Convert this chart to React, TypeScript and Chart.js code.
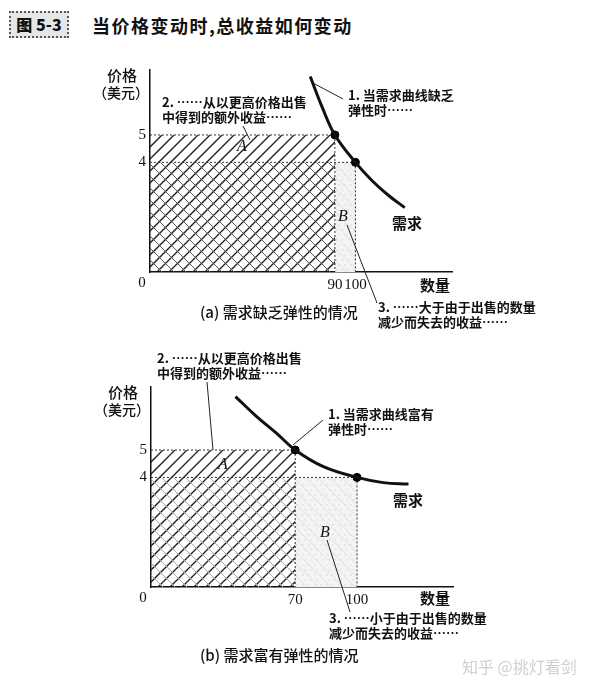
import React, { useEffect, useRef } from "react";
import { Chart, registerables } from "chart.js";
Chart.register(...registerables);

// ---- data ----
const priceTicks = [4, 5];
const qtyTicksA = [90, 100];
const qtyTicksB = [70, 100];

const demandAQty = [78, 84, 90, 100, 108, 116, 124];
const demandAPrice = [7.13, 5.98, 5, 4, 3.34, 2.8, 2.35];
const demandBQty = [41, 51.3, 61, 70, 83.7, 100, 112.8, 125];
const demandBPrice = [6.95, 6.22, 5.61, 5, 4.39, 4, 3.81, 3.76];

const pointsAQty = [90, 100];
const pointsBQty = [70, 100];
const pointsPrice = [5, 4];

const CJK = '"Noto Sans CJK SC", "Noto Sans", sans-serif';
const SERIF = '"Liberation Serif", "DejaVu Serif", serif';

type Txt = { t: string; x: number; y: number; f: string; a?: CanvasTextAlign; c?: string };

function makePlugin(cfg: {
  qty: number[];
  price: number[];
  backColor: string;
  texts: Txt[];
  leaders: number[][];
}) {
  return {
    id: "econ",
    beforeDatasetsDraw(chart: any) {
      const { ctx } = chart;
      const xs = chart.scales.x;
      const ys = chart.scales.y;
      const X = (v: number) => xs.getPixelForValue(v);
      const Y = (v: number) => ys.getPixelForValue(v);
      const [q1, q2] = cfg.qty;
      const [p1, p2] = cfg.price;
      ctx.save();
      // region B light fill
      const bx = X(q1), by = Y(p2), bw = X(q2) - X(q1), bh = Y(0) - Y(p2);
      ctx.fillStyle = "#f4f4f4";
      ctx.fillRect(bx, by, bw, bh);
      ctx.fillStyle = "#c4c4c4";
      let row = 0;
      for (let yy = by + 2; yy < by + bh; yy += 5) {
        for (let xx = bx + (row % 2 ? 1 : 3.5); xx < bx + bw; xx += 6) {
          ctx.fillRect(xx, yy, 1, 1);
        }
        row++;
      }
      // faint "\" in region B
      ctx.save();
      ctx.beginPath();
      ctx.rect(bx, by, bw, bh);
      ctx.clip();
      ctx.strokeStyle = "#e0e0e0";
      ctx.lineWidth = 1;
      for (let c = bx - (by + bh) - 12; c < bx + bw - by + 12; c += 12) {
        ctx.beginPath();
        ctx.moveTo(c + by, by);
        ctx.lineTo(c + by + bh, by + bh);
        ctx.stroke();
      }
      ctx.restore();

      const s = 12;
      // "/" hatch over [0,q1] x [0,p1]
      const L = X(0), R = X(q1), T = Y(p1), B = Y(0);
      ctx.save();
      ctx.beginPath();
      ctx.rect(L, T, R - L, B - T);
      ctx.clip();
      ctx.strokeStyle = "#1e1e1e";
      ctx.lineWidth = 1.3;
      for (let c = L + T - s; c < R + B + s; c += s) {
        ctx.beginPath();
        ctx.moveTo(c - B, B);
        ctx.lineTo(c - T, T);
        ctx.stroke();
      }
      ctx.restore();
      // "\" hatch over [0,q1] x [0,p2]
      const T2 = Y(p2);
      ctx.save();
      ctx.beginPath();
      ctx.rect(L, T2, R - L, B - T2);
      ctx.clip();
      ctx.strokeStyle = cfg.backColor;
      ctx.lineWidth = 1;
      for (let c = L - B - s; c < R - T2 + s; c += s) {
        ctx.beginPath();
        ctx.moveTo(c + T2, T2);
        ctx.lineTo(c + B, B);
        ctx.stroke();
      }
      ctx.restore();

      // dotted guides
      ctx.strokeStyle = "#333";
      ctx.lineWidth = 1;
      ctx.setLineDash([2, 2]);
      const seg = (a: number, b: number, c: number, d: number) => {
        ctx.beginPath();
        ctx.moveTo(a, b);
        ctx.lineTo(c, d);
        ctx.stroke();
      };
      seg(X(0), Y(p1), X(q1), Y(p1));
      seg(X(0), Y(p2), X(q2), Y(p2));
      seg(X(q1), Y(p1), X(q1), Y(0));
      seg(X(q2), Y(p2), X(q2), Y(0));
      ctx.restore();
    },
    afterDraw(chart: any) {
      const { ctx } = chart;
      const xs = chart.scales.x;
      const ys = chart.scales.y;
      ctx.save();
      ctx.strokeStyle = "#222";
      ctx.lineWidth = 1;
      cfg.leaders.forEach((l) => {
        ctx.beginPath();
        ctx.moveTo(l[0], l[1]);
        ctx.lineTo(l[2], l[3]);
        ctx.stroke();
      });
      ctx.textBaseline = "middle";
      // origin label
      ctx.font = `15px ${SERIF}`;
      ctx.fillStyle = "#111";
      ctx.textAlign = "center";
      ctx.fillText("0", xs.getPixelForValue(0) - 8, ys.getPixelForValue(0) + 11);
      cfg.texts.forEach((tx) => {
        ctx.font = tx.f;
        ctx.fillStyle = tx.c || "#111";
        ctx.textAlign = tx.a || "left";
        ctx.fillText(tx.t, tx.x, tx.y);
      });
      ctx.restore();
    },
  };
}

const fNote = `bold 13px ${CJK}`;
const fLab = `500 15px ${CJK}`;
const fUnit = `500 14px ${CJK}`;
const fBig = `bold 15px ${CJK}`;
const fCap = `500 15px ${CJK}`;
const fLetter = `italic 16px ${SERIF}`;

const textsA: Txt[] = [
  { t: "价格", x: 122, y: 75, f: fLab, a: "center" },
  { t: "（美元）", x: 121, y: 93, f: fUnit, a: "center" },
  { t: "1. 当需求曲线缺乏", x: 348, y: 95, f: fNote },
  { t: "弹性时……", x: 348, y: 110, f: fNote },
  { t: "2. ……从以更高价格出售", x: 162, y: 102, f: fNote },
  { t: "中得到的额外收益……", x: 162, y: 117, f: fNote },
  { t: "A", x: 242, y: 147, f: fLetter, a: "center" },
  { t: "B", x: 343, y: 217, f: fLetter, a: "center" },
  { t: "3. ……大于由于出售的数量", x: 378, y: 307, f: fNote },
  { t: "减少而失去的收益……", x: 378, y: 322, f: fNote },
  { t: "需求", x: 407, y: 223, f: fBig, a: "center" },
  { t: "数量", x: 435, y: 285, f: fBig, a: "center" },
  { t: "(a) 需求缺乏弹性的情况", x: 200, y: 312, f: fCap },
];
const leadersA = [
  [313, 83, 343, 99],
  [243, 126, 250, 140],
  [347, 225, 377, 303],
];

const textsB: Txt[] = [
  { t: "2. ……从以更高价格出售", x: 157, y: 10, f: fNote },
  { t: "中得到的额外收益……", x: 157, y: 25, f: fNote },
  { t: "价格", x: 123, y: 44, f: fLab, a: "center" },
  { t: "（美元）", x: 122, y: 62, f: fUnit, a: "center" },
  { t: "1. 当需求曲线富有", x: 328, y: 66, f: fNote },
  { t: "弹性时……", x: 328, y: 81, f: fNote },
  { t: "A", x: 223, y: 117, f: fLetter, a: "center" },
  { t: "需求", x: 408, y: 152, f: fBig, a: "center" },
  { t: "B", x: 325, y: 185, f: fLetter, a: "center" },
  { t: "3. ……小于由于出售的数量", x: 329, y: 270, f: fNote },
  { t: "减少而失去的收益……", x: 329, y: 285, f: fNote },
  { t: "数量", x: 435, y: 250, f: fBig, a: "center" },
  { t: "(b) 需求富有弹性的情况", x: 200, y: 307, f: fCap },
];
const leadersB = [
  [293, 97, 323, 72],
  [207, 34, 213, 102],
  [327, 192, 350, 264],
];

function buildChart(
  canvas: HTMLCanvasElement,
  opts: {
    dQty: number[];
    dPrice: number[];
    pQty: number[];
    qTicks: number[];
    xMax: number;
    yMax: number;
    yWidth: number;
    padRight: number;
    padTop: number;
    padBottom: number;
    plugin: any;
  }
) {
  return new Chart(canvas, {
    type: "line",
    data: {
      datasets: [
        {
          data: opts.dQty.map((q, i) => ({ x: q, y: opts.dPrice[i] })),
          borderColor: "#111",
          borderWidth: 3,
          pointRadius: 0,
          tension: 0.4,
          fill: false,
        },
        {
          data: opts.pQty.map((q, i) => ({ x: q, y: pointsPrice[i] })),
          showLine: false,
          pointRadius: 4,
          pointBackgroundColor: "#000",
          pointBorderColor: "#000",
          borderColor: "#000",
        },
      ],
    } as any,
    options: {
      responsive: false,
      animation: false,
      events: [],
      layout: { padding: { left: 0, right: opts.padRight, top: opts.padTop, bottom: opts.padBottom } },
      plugins: { legend: { display: false }, tooltip: { enabled: false } },
      scales: {
        x: {
          type: "linear",
          min: 0,
          max: opts.xMax,
          grid: { display: false, drawTicks: false },
          border: { display: true, color: "#111", width: 1.5 },
          ticks: { font: { family: SERIF, size: 15 }, color: "#111", padding: 4, autoSkip: false, maxRotation: 0 },
          afterBuildTicks: (s: any) => {
            s.ticks = opts.qTicks.map((v) => ({ value: v }));
          },
          afterFit: (s: any) => {
            s.height = 24;
          },
        },
        y: {
          type: "linear",
          min: 0,
          max: opts.yMax,
          grid: { display: false, drawTicks: false },
          border: { display: true, color: "#111", width: 1.5 },
          ticks: { font: { family: SERIF, size: 15 }, color: "#111", padding: 4, autoSkip: false },
          afterBuildTicks: (s: any) => {
            s.ticks = priceTicks.map((v) => ({ value: v }));
          },
          afterFit: (s: any) => {
            s.width = opts.yWidth;
          },
        },
      },
    } as any,
    plugins: [opts.plugin],
  });
}

export default function App() {
  const refA = useRef<HTMLCanvasElement>(null);
  const refB = useRef<HTMLCanvasElement>(null);

  useEffect(() => {
    document.body.style.margin = "0";
    const a = buildChart(refA.current!, {
      dQty: demandAQty,
      dPrice: demandAPrice,
      pQty: pointsAQty,
      qTicks: qtyTicksA,
      xMax: 147,
      yMax: 7.37,
      yWidth: 150,
      padRight: 148,
      padTop: 70,
      padBottom: 52,
      plugin: makePlugin({ qty: pointsAQty, price: pointsPrice, backColor: "#555", texts: textsA, leaders: leadersA }),
    });
    const b = buildChart(refB.current!, {
      dQty: demandBQty,
      dPrice: demandBPrice,
      pQty: pointsBQty,
      qTicks: qtyTicksB,
      xMax: 146.6,
      yMax: 7.3,
      yWidth: 151,
      padRight: 147,
      padTop: 39,
      padBottom: 85,
      plugin: makePlugin({ qty: pointsBQty, price: pointsPrice, backColor: "#aaa", texts: textsB, leaders: leadersB }),
    });
    return () => {
      a.destroy();
      b.destroy();
    };
  }, []);

  return (
    <div style={{ position: "relative", width: 600, height: 696, background: "#fff", overflow: "hidden" }}>
      <div
        style={{
          position: "absolute",
          left: 9,
          top: 11,
          width: 60,
          height: 27,
          border: "2px dotted #555",
          boxSizing: "border-box",
          background: "#e6e6e6",
          fontFamily: CJK,
          fontWeight: 900,
          fontSize: 16,
          lineHeight: "23px",
          textAlign: "center",
          color: "#111",
        }}
      >
        图 5-3
      </div>
      <div
        style={{
          position: "absolute",
          left: 92,
          top: 12,
          fontFamily: CJK,
          fontWeight: 700,
          fontSize: 18,
          letterSpacing: 1.5,
          lineHeight: "26px",
          color: "#111",
          whiteSpace: "nowrap",
        }}
      >
        当价格变动时,总收益如何变动
      </div>
      <canvas ref={refA} width={600} height={348} style={{ position: "absolute", left: 0, top: 0, display: "block" }} />
      <canvas ref={refB} width={600} height={348} style={{ position: "absolute", left: 0, top: 348, display: "block" }} />
      <div
        style={{
          position: "absolute",
          left: 462,
          top: 654,
          fontFamily: CJK,
          fontSize: 16,
          color: "#cfcfcf",
          whiteSpace: "nowrap",
        }}
      >
        知乎 @挑灯看剑
      </div>
    </div>
  );
}
